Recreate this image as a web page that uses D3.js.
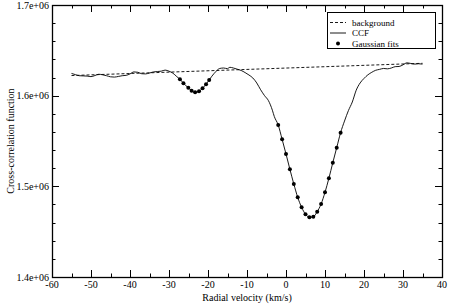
<!DOCTYPE html>
<html>
<head>
<meta charset="utf-8">
<script src="https://cdn.jsdelivr.net/npm/d3@7"></script>
<style>
  body { margin: 0; background: #fff; }
  text { font-family: "Liberation Serif", "DejaVu Serif", serif; fill: #000; }
</style>
</head>
<body>
<div id="chart"></div>
<script>
// CCF curve (velocity in km/s, value)
var ccfVel = [-55,-54,-53,-52,-51,-50,-49,-48,-47,-46,-45,-44,-43,-42,-41,-40,-39,-38,-37,-36,
  -35,-34,-33,-32,-31,-30,-29,-28,-27.2,-26.3,-25.05,-24.2,-23.3,-22.3,-21.4,-20.5,-19.7,-19,-18,-17,
  -16,-15,-14.4,-13.5,-12.5,-11.5,-10.5,-9.5,-8.5,-7.5,-6.5,-5.5,-4.5,-3.5,-3,-2,-1,0,1,2,
  3,4,5,6,7,8,9,10,11,12,13,14,15,16,17,18,19,20,21,22,
  23,24,25,26,27,28,29,30,31,32,33,34,35];
var ccfVal = [1.6245,1.6232,1.6220,1.6218,1.6216,1.6210,1.6222,1.6236,1.6230,1.6220,1.6208,1.6205,1.6212,1.6220,1.6224,1.6240,1.6262,1.6258,1.6242,1.6240,
  1.6250,1.6262,1.6266,1.6270,1.6282,1.6270,1.6248,1.6210,1.6181,1.6136,1.6088,1.6055,1.6037,1.6048,1.6081,1.6125,1.6173,1.6215,1.6265,1.6300,
  1.6305,1.6298,1.6313,1.6305,1.6292,1.6278,1.6255,1.6228,1.6195,1.6140,1.6065,1.6000,1.5945,1.5840,1.5770,1.5677,1.5519,1.5357,1.5188,1.5026,
  1.4879,1.4769,1.4692,1.4659,1.4665,1.4720,1.4805,1.4934,1.5089,1.5261,1.5426,1.5592,1.5720,1.5835,1.5930,1.6060,1.6140,1.6190,1.6230,1.6258,
  1.6280,1.6290,1.6300,1.6296,1.6305,1.6320,1.6322,1.6340,1.6362,1.6355,1.6348,1.6352,1.6348].map(function(v){ return v * 1e6; });

// Gaussian fit points
var gaussVel = [-27.2,-26.3,-25.05,-24.2,-23.3,-22.3,-21.4,-20.5,-19.7,
  -2,-1,0,1,2,3,4,5,6,7,8,9,10,11,12,13,14];
var gaussVal = [1.6181,1.6136,1.6088,1.6055,1.6037,1.6048,1.6081,1.6125,1.6173,
  1.5677,1.5519,1.5357,1.5188,1.5026,1.4879,1.4769,1.4692,1.4659,1.4665,1.4720,1.4805,1.4934,1.5089,1.5261,1.5426,1.5592].map(function(v){ return v * 1e6; });

// Background line
var bgVel = [-55, 35];
var bgVal = [1.6222e6, 1.6357e6];

var xTicks = [-60,-50,-40,-30,-20,-10,0,10,20,30,40];
var yTicks = [1.4e6, 1.5e6, 1.6e6, 1.7e6];
var yTickLabels = ["1.4e+06","1.5e+06","1.6e+06","1.7e+06"];

var legendItems = ["background", "CCF", "Gaussian fits"];

var width = 449, height = 305;
var margin = {top: 5, right: 7, bottom: 28, left: 52};

var svg = d3.select("#chart").append("svg")
  .attr("width", width).attr("height", height);

var xScale = d3.scaleLinear().domain([-60, 40]).range([margin.left, width - margin.right]);
var yScale = d3.scaleLinear().domain([1.4e6, 1.7e6]).range([height - margin.bottom, margin.top]);

var x0 = margin.left, x1 = width - margin.right, y0 = height - margin.bottom, y1 = margin.top;

// ticks on all four sides, pointing inward
var minorX = d3.range(-55, 40, 10);
var minorY = d3.range(1.4e6, 1.7e6 + 1, 0.02e6).filter(function(v){ return Math.round(v / 1e4) % 10 != 0; });

var ticks = svg.append("g").attr("stroke", "#000").attr("stroke-width", 1);
xTicks.forEach(function(v){
  var px = Math.round(xScale(v)) + 0.5;
  ticks.append("line").attr("x1", px).attr("x2", px).attr("y1", y0).attr("y2", y0 - 7);
  ticks.append("line").attr("x1", px).attr("x2", px).attr("y1", y1).attr("y2", y1 + 7);
});
minorX.forEach(function(v){
  var px = Math.round(xScale(v)) + 0.5;
  ticks.append("line").attr("x1", px).attr("x2", px).attr("y1", y0).attr("y2", y0 - 3.5);
  ticks.append("line").attr("x1", px).attr("x2", px).attr("y1", y1).attr("y2", y1 + 3.5);
});
yTicks.forEach(function(v){
  var py = Math.round(yScale(v)) + 0.5;
  ticks.append("line").attr("x1", x0).attr("x2", x0 + 7).attr("y1", py).attr("y2", py);
  ticks.append("line").attr("x1", x1).attr("x2", x1 - 7).attr("y1", py).attr("y2", py);
});
minorY.forEach(function(v){
  var py = Math.round(yScale(v)) + 0.5;
  ticks.append("line").attr("x1", x0).attr("x2", x0 + 3.5).attr("y1", py).attr("y2", py);
  ticks.append("line").attr("x1", x1).attr("x2", x1 - 3.5).attr("y1", py).attr("y2", py);
});

// frame
svg.append("rect")
  .attr("x", x0 + 0.5).attr("y", y1 + 0.5)
  .attr("width", x1 - x0).attr("height", y0 - y1)
  .attr("fill", "none").attr("stroke", "#000").attr("stroke-width", 1.3);

// tick labels
svg.append("g").selectAll("text").data(xTicks).enter().append("text")
  .attr("x", function(d){ return xScale(d); })
  .attr("y", 288)
  .attr("text-anchor", "middle")
  .style("font-size", "10px")
  .text(function(d){ return d; });

svg.append("g").selectAll("text").data(yTicks).enter().append("text")
  .attr("x", 49)
  .attr("y", function(d){ return yScale(d) + 3.5; })
  .attr("text-anchor", "end")
  .style("font-size", "10px")
  .text(function(d, i){ return yTickLabels[i]; });

// axis titles
svg.append("text")
  .attr("x", (x0 + x1) / 2).attr("y", 301)
  .attr("text-anchor", "middle")
  .style("font-size", "10px")
  .text("Radial velocity (km/s)");

svg.append("text")
  .attr("transform", "translate(14," + ((y0 + y1) / 2) + ")rotate(-90)")
  .attr("text-anchor", "middle")
  .style("font-size", "10px")
  .text("Cross-correlation function");

// background dashed line
var line = d3.line()
  .x(function(d){ return xScale(d[0]); })
  .y(function(d){ return yScale(d[1]); });

svg.append("path")
  .datum(d3.zip(bgVel, bgVal))
  .attr("d", line)
  .attr("fill", "none").attr("stroke", "#000").attr("stroke-width", 0.9)
  .attr("stroke-dasharray", "3,2");

// CCF
svg.append("path")
  .datum(d3.zip(ccfVel, ccfVal))
  .attr("d", line.curve(d3.curveMonotoneX))
  .attr("fill", "none").attr("stroke", "#000").attr("stroke-width", 0.9);

// Gaussian fits
svg.append("g").selectAll("circle").data(d3.zip(gaussVel, gaussVal)).enter().append("circle")
  .attr("cx", function(d){ return xScale(d[0]); })
  .attr("cy", function(d){ return yScale(d[1]); })
  .attr("r", 2)
  .attr("fill", "#000");

// legend
var legend = svg.append("g");
legend.append("rect")
  .attr("x", 327.5).attr("y", 12.5).attr("width", 108).attr("height", 36)
  .attr("fill", "#fff").attr("stroke", "#000").attr("stroke-width", 1);

legendItems.forEach(function(name, i){
  var cy = 22.5 + i * 10.5;
  if (i == 0) {
    legend.append("line").attr("x1", 330).attr("x2", 346).attr("y1", cy).attr("y2", cy)
      .attr("stroke", "#000").attr("stroke-width", 0.9).attr("stroke-dasharray", "3,2");
  } else if (i == 1) {
    legend.append("line").attr("x1", 330).attr("x2", 346).attr("y1", cy).attr("y2", cy)
      .attr("stroke", "#000").attr("stroke-width", 0.9);
  } else {
    legend.append("circle").attr("cx", 338).attr("cy", cy).attr("r", 2).attr("fill", "#000");
  }
  legend.append("text")
    .attr("x", 352).attr("y", cy + 3.2)
    .style("font-size", "9px")
    .text(name);
});
</script>
</body>
</html>
